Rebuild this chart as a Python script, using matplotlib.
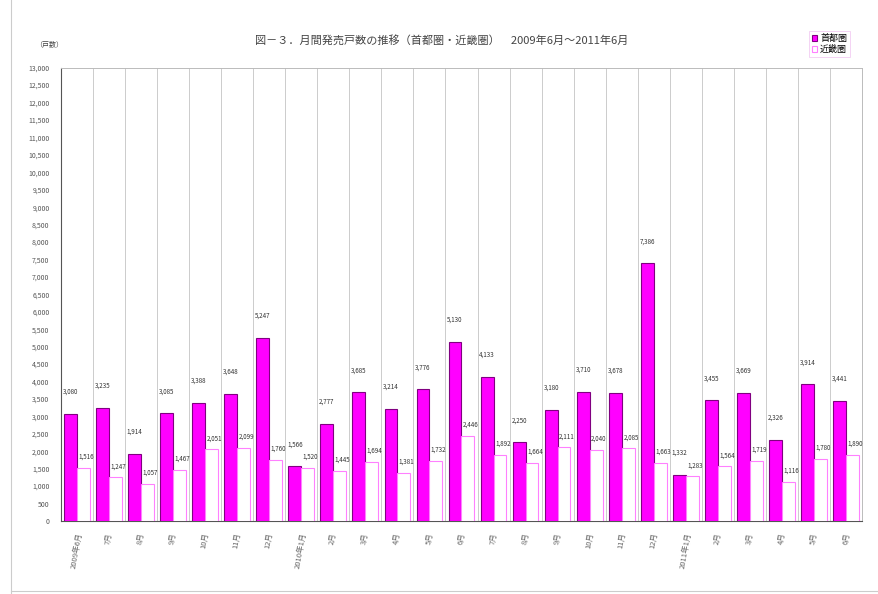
import numpy as np
import matplotlib.pyplot as plt
from matplotlib.ticker import FuncFormatter, MultipleLocator

plt.rcParams['font.family'] = ['Noto Sans CJK JP', 'DejaVu Sans']

months = ['2009年6月', '7月', '8月', '9月', '10月', '11月', '12月',
          '2010年1月', '2月', '3月', '4月', '5月', '6月', '7月', '8月', '9月',
          '10月', '11月', '12月', '2011年1月', '2月', '3月', '4月', '5月', '6月']
shutoken = [3080, 3235, 1914, 3085, 3388, 3648, 5247, 1566, 2777, 3685, 3214, 3776,
            5130, 4133, 2250, 3180, 3710, 3678, 7386, 1332, 3455, 3669, 2326, 3914, 3441]
kinki = [1516, 1247, 1057, 1467, 2051, 2099, 1760, 1520, 1445, 1694, 1381, 1732,
         2446, 1892, 1664, 2111, 2040, 2085, 1663, 1283, 1564, 1719, 1116, 1780, 1890]

title = '図－３．月間発売戸数の推移（首都圏・近畿圏）　2009年6月～2011年6月'

fig = plt.figure(figsize=(8.79, 5.94), dpi=100)
ax = fig.add_axes([0.069, 0.123, 0.912, 0.763])

x = np.arange(len(months))
w = 0.4
b1 = ax.bar(x - w / 2, shutoken, w, color='#FF00FF', edgecolor='#800080', linewidth=0.8,
            label='首都圏', zorder=3)
b2 = ax.bar(x + w / 2, kinki, w, color='#FFFFFF', edgecolor='#FF80FF', linewidth=0.8,
            label='近畿圏', zorder=3)

fmt = lambda v: f'{v:,}'
for xi, v in zip(x, shutoken):
    ax.annotate(fmt(v), (xi - w / 2, v), xytext=(0, 13), textcoords='offset points',
                ha='center', va='bottom', fontsize=4.5, color='#333333')
for xi, v in zip(x, kinki):
    ax.annotate(fmt(v), (xi + w / 2, v), xytext=(2, 5), textcoords='offset points',
                ha='center', va='bottom', fontsize=4.5, color='#333333')

ax.set_xlim(-0.5, len(months) - 0.5)
ax.set_ylim(0, 13000)
ax.yaxis.set_major_locator(MultipleLocator(500))
ax.yaxis.set_major_formatter(FuncFormatter(lambda v, p: f'{int(v):,}'))
ax.tick_params(axis='y', labelsize=5, colors='#555555', length=0, pad=8)

ax.set_xticks(x)
ax.set_xticklabels(months, rotation=80, ha='center', va='top', fontsize=5.5, color='#666666')
ax.tick_params(axis='x', length=0, pad=8)

# category separators
for b in np.arange(0.5, len(months) - 0.5, 1):
    ax.axvline(b, color='#CCCCCC', linewidth=0.7, zorder=1)

for s in ['top', 'right']:
    ax.spines[s].set_color('#BBBBBB')
    ax.spines[s].set_linewidth(0.7)
ax.spines['left'].set_color('#555555')
ax.spines['bottom'].set_color('#555555')

fig.text(0.503, 0.933, title, ha='center', va='center', fontsize=8, color='#444444')
fig.text(0.04, 0.925, '（戸数）', ha='left', va='center', fontsize=5, color='#444444')

leg = ax.legend(loc='upper right', bbox_to_anchor=(0.99, 1.09), fontsize=6.5,
                frameon=True, handlelength=0.6, handleheight=0.6, handletextpad=0.3,
                borderpad=0.3, labelspacing=0.2, fancybox=False)
leg.get_frame().set_edgecolor('#F0C0F0')
leg.get_frame().set_linewidth(0.6)

# page border like the scanned original
fig.add_artist(plt.Line2D([0.012, 0.012], [0.0, 1.0], color='#CCCCCC', linewidth=0.8))
fig.add_artist(plt.Line2D([0.012, 1.0], [0.005, 0.005], color='#CCCCCC', linewidth=0.8))

fig.savefig('out.png', dpi=100)
